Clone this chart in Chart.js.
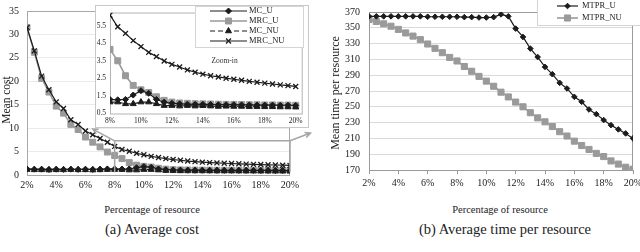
<!DOCTYPE html>
<html>
<head>
<meta charset="utf-8">
<script src="https://cdn.jsdelivr.net/npm/chart.js@4.4.0/dist/chart.umd.min.js"></script>
<style>
  body { margin: 0; background: #fff; }
  #wrap { position: relative; width: 640px; height: 252px; overflow: hidden; font-family: "Liberation Serif", "Times New Roman", serif; color: #222; }
  canvas { position: absolute; }
  .t { position: absolute; text-align: center; white-space: nowrap; }
</style>
</head>
<body>
<div id="wrap">
  <canvas id="costChart" width="320" height="195" style="left:0;top:0"></canvas>
  <div style="position:absolute;left:95px;top:5px;width:212px;height:121px;border:1px solid #c8c8c8;background:#fff">
    <canvas id="zoomChart" width="212" height="121" style="left:0;top:0"></canvas>
  </div>
  <canvas id="timeChart" width="320" height="195" style="left:320px;top:0"></canvas>

  <div class="t" style="left:-64px;top:93px;width:140px;font-size:11.5px;line-height:14px;transform:rotate(-90deg)">Mean cost</div>
  <div class="t" style="left:265px;top:86px;width:140px;font-size:12px;line-height:14px;transform:rotate(-90deg)">Mean time per resource</div>
  <div class="t" style="left:52px;top:203px;width:200px;font-size:10.5px;line-height:14px">Percentage of resource</div>
  <div class="t" style="left:400px;top:203px;width:200px;font-size:10.5px;line-height:14px">Percentage of resource</div>
  <div class="t" style="left:52px;top:220px;width:200px;font-size:14.5px;line-height:18px">(a) Average cost</div>
  <div class="t" style="left:405px;top:220px;width:200px;font-size:14.5px;line-height:18px">(b) Average time per resource</div>
</div>
<script>
// percentage of resource (x values)
const pct = [2, 2.5, 3, 3.5, 4, 4.5, 5, 5.5, 6, 6.5, 7, 7.5, 8, 8.5, 9, 9.5, 10, 10.5, 11, 11.5,
             12, 12.5, 13, 13.5, 14, 14.5, 15, 15.5, 16, 16.5, 17, 17.5, 18, 18.5, 19, 19.5, 20];

// (a) mean cost
const mcU   = [1.3, 1.25, 1.25, 1.2, 1.25, 1.2, 1.25, 1.2, 1.25, 1.2, 1.25, 1.3,
               1.3, 1.28, 1.3, 1.55, 1.8, 1.65, 1.3, 1.15, 1.08, 1.05, 1.03, 1.02, 1.02,
               1.01, 1.0, 1.0, 1.0, 0.99, 0.99, 0.98, 0.98, 0.98, 0.97, 0.97, 0.96];
const mrcU  = [31.5, 26.2, 20.6, 17.7, 14.7, 13.2, 10.8, 9.7, 8.1, 7.0, 6.0, 4.9,
               4.15, 3.5, 2.65, 2.1, 1.85, 1.7, 1.45, 1.25, 1.15, 1.1, 1.08, 1.06, 1.05,
               1.04, 1.03, 1.02, 1.02, 1.01, 1.0, 1.0, 0.99, 0.99, 0.98, 0.98, 0.97];
const mcNU  = [1.15, 1.1, 1.1, 1.05, 1.1, 1.1, 1.15, 1.1, 1.1, 1.05, 1.1, 1.15,
               1.15, 1.15, 1.05, 1.05, 1.15, 1.15, 1.05, 0.95, 0.95, 0.92, 0.95, 0.92, 0.94,
               0.92, 0.9, 0.91, 0.9, 0.9, 0.89, 0.89, 0.88, 0.88, 0.87, 0.87, 0.86];
const mrcNU = [31.5, 26.5, 21.1, 18.2, 15.6, 14.2, 11.8, 10.8, 9.4, 8.6, 7.8, 7.0,
               6.1, 5.44, 5.06, 4.65, 4.31, 3.98, 3.74, 3.49, 3.3, 3.15, 2.98, 2.85, 2.74,
               2.65, 2.58, 2.51, 2.45, 2.39, 2.33, 2.28, 2.23, 2.18, 2.13, 2.09, 2.04];

// (b) mean time per resource
const mtprU  = [364.5, 364.5, 364.5, 364.5, 364.5, 364.5, 364.5, 364.5, 364, 364, 364, 364,
                364, 363.5, 363.5, 363, 363, 363.5, 367, 364.5, 349, 338.4, 323.7, 313, 300.5,
                291.3, 280.3, 273.2, 262.6, 256.3, 246.6, 240.7, 233.2, 226.8, 221.4, 216.3, 210];
const mtprNU = [360.5, 358, 355, 352, 348, 343.5, 339.5, 335, 329.5, 324, 318.5, 312.5,
                308, 301, 295, 288.5, 282.5, 276, 268.5, 262.5, 256, 250, 242.5, 236, 231,
                225, 218.5, 213, 206.5, 201, 196, 191, 187, 181.5, 177.5, 173.5, 171];

// tick labels
const pctTicks = [2, 4, 6, 8, 10, 12, 14, 16, 18, 20];
const costTicks = [0, 5, 10, 15, 20, 25, 30, 35];
const zoomPctTicks = [8, 10, 12, 14, 16, 18, 20];
const zoomCostTicks = [0.5, 1.5, 2.5, 3.5, 4.5, 5.5];
const timeTicks = [170, 190, 210, 230, 250, 270, 290, 310, 330, 350, 370];

// zoomed region marked on the main cost chart (data units)
const zoomBox = { x0: 8, x1: 20, y0: 0.6, y1: 7.3 };
const zoomArrows = [[8, 7.3, 6.5, 9.8], [20, 7.3, 21.4, 8.95]];

Chart.defaults.font.family = "'Liberation Serif', 'Times New Roman', serif";
Chart.defaults.color = '#222';

const BLACK = '#1c1c1c', GREY = '#9a9a9a';

function pts(values, from) {
  return pct.map((p, i) => ({ x: p, y: values[i] })).filter(d => d.x >= (from || 0));
}

function costSets(from) {
  return [
    { label: 'MC_U', data: pts(mcU, from), borderColor: BLACK, borderWidth: 1.2,
      pointStyle: 'rectRot', pointRadius: 3, pointBackgroundColor: BLACK, pointBorderColor: BLACK, pointBorderWidth: 1, order: 1 },
    { label: 'MRC_U', data: pts(mrcU, from), borderColor: GREY, borderWidth: 1.6,
      pointStyle: 'rect', pointRadius: 4.2, pointBackgroundColor: GREY, pointBorderColor: GREY, pointBorderWidth: 1, order: 3 },
    { label: 'MC_NU', data: pts(mcNU, from), borderColor: BLACK, borderWidth: 1.2, borderDash: [5, 3],
      pointStyle: 'triangle', pointRadius: 3.5, pointBackgroundColor: BLACK, pointBorderColor: BLACK, pointBorderWidth: 1, order: 0 },
    { label: 'MRC_NU', data: pts(mrcNU, from), borderColor: BLACK, borderWidth: 1.2,
      pointStyle: 'crossRot', pointRadius: 3.5, pointBackgroundColor: BLACK, pointBorderColor: BLACK, pointBorderWidth: 1.3, order: 2 }
  ];
}

// plot frame
const frame = {
  id: 'frame',
  beforeDatasetsDraw(chart, args, o) {
    const a = chart.chartArea, ctx = chart.ctx;
    ctx.save();
    ctx.strokeStyle = o.color || '#a0a0a0';
    ctx.lineWidth = 1;
    ctx.strokeRect(a.left + 0.5, a.top + 0.5, a.right - a.left - 1, a.bottom - a.top);
    ctx.restore();
  }
};

// legend with line + marker sample
const lineLegend = {
  id: 'lineLegend',
  afterDraw(chart, args, o) {
    const ctx = chart.ctx;
    ctx.save();
    ctx.fillStyle = '#fff';
    ctx.fillRect(o.box[0], o.box[1], o.box[2], o.box[3]);
    ctx.strokeStyle = '#d4d4d4';
    ctx.lineWidth = 1;
    ctx.strokeRect(o.box[0] + 0.5, o.box[1] + 0.5, o.box[2] - 1, o.box[3] - 1);
    ctx.font = o.font;
    ctx.textBaseline = 'middle';
    chart.data.datasets.forEach((ds, i) => {
      const y = o.rows[i];
      ctx.strokeStyle = ds.borderColor;
      ctx.lineWidth = ds.borderWidth;
      ctx.setLineDash(ds.borderDash || []);
      ctx.beginPath();
      ctx.moveTo(o.line[0], y);
      ctx.lineTo(o.line[1], y);
      ctx.stroke();
      ctx.setLineDash([]);
      ctx.fillStyle = ds.pointBackgroundColor;
      ctx.strokeStyle = ds.pointBorderColor;
      ctx.lineWidth = ds.pointBorderWidth;
      Chart.helpers.drawPoint(ctx, { pointStyle: ds.pointStyle, radius: ds.pointRadius, rotation: 0,
        borderWidth: ds.pointBorderWidth }, (o.line[0] + o.line[1]) / 2, y);
      ctx.fillStyle = '#222';
      ctx.fillText(ds.label, o.textX, y);
    });
    ctx.restore();
  }
};

function arrow(ctx, x1, y1, x2, y2) {
  const ang = Math.atan2(y2 - y1, x2 - x1);
  ctx.beginPath();
  ctx.moveTo(x1, y1);
  ctx.lineTo(x2, y2);
  ctx.moveTo(x2 - 6 * Math.cos(ang - 0.45), y2 - 6 * Math.sin(ang - 0.45));
  ctx.lineTo(x2, y2);
  ctx.lineTo(x2 - 6 * Math.cos(ang + 0.45), y2 - 6 * Math.sin(ang + 0.45));
  ctx.stroke();
}

const zoomMark = {
  id: 'zoomMark',
  afterDatasetsDraw(chart) {
    const ctx = chart.ctx, x = chart.scales.x, y = chart.scales.y;
    const px = v => x.getPixelForValue(v), py = v => y.getPixelForValue(v);
    ctx.save();
    ctx.strokeStyle = '#a5a5a5';
    ctx.lineWidth = 1.5;
    ctx.beginPath();
    ctx.moveTo(px(zoomBox.x0), py(zoomBox.y0));
    ctx.lineTo(px(zoomBox.x0), py(zoomBox.y1));
    ctx.lineTo(px(zoomBox.x1), py(zoomBox.y1));
    ctx.lineTo(px(zoomBox.x1), py(zoomBox.y0));
    ctx.stroke();
    zoomArrows.forEach(a => arrow(ctx, px(a[0]), py(a[1]), px(a[2]), py(a[3])));
    ctx.restore();
  }
};

const zoomLabel = {
  id: 'zoomLabel',
  afterDatasetsDraw(chart) {
    const ctx = chart.ctx;
    ctx.save();
    ctx.font = "7.5px 'Liberation Serif', serif";
    ctx.fillStyle = '#333';
    ctx.textAlign = 'center';
    ctx.textBaseline = 'middle';
    ctx.fillText('Zoom-in', chart.scales.x.getPixelForValue(15.4), chart.scales.y.getPixelForValue(3.5));
    ctx.restore();
  }
};

function fixTicks(list) {
  return s => { s.ticks = list.map(v => ({ value: v })); };
}
function noPad(s) { s.paddingLeft = 0; s.paddingRight = 0; s.paddingTop = 0; s.paddingBottom = 0; }

const base = {
  responsive: false,
  animation: false,
  devicePixelRatio: 1,
  events: [],
  elements: { line: { tension: 0, fill: false } }
};

// (a) main cost chart
new Chart(document.getElementById('costChart'), {
  type: 'line',
  data: { datasets: costSets() },
  options: Object.assign({}, base, {
    layout: { padding: { left: 0, top: 11, right: 30, bottom: 0 } },
    scales: {
      x: {
        type: 'linear', min: 2, max: 20,
        afterBuildTicks: fixTicks(pctTicks),
        afterFit: s => { s.height = 20; noPad(s); },
        grid: { display: false, drawTicks: false },
        border: { display: false },
        ticks: { padding: 4, font: { size: 10 }, maxRotation: 0, callback: v => v + '%' }
      },
      y: {
        min: 0, max: 35,
        afterBuildTicks: fixTicks(costTicks),
        afterFit: s => { s.width = 27; noPad(s); },
        grid: { color: '#ebebeb', drawTicks: false },
        border: { display: false },
        ticks: { padding: 8, font: { size: 10 } }
      }
    },
    plugins: { legend: { display: false }, tooltip: { enabled: false }, frame: { color: '#a8a8a8' } }
  }),
  plugins: [frame, zoomMark]
});

// (a) zoom-in inset
new Chart(document.getElementById('zoomChart'), {
  type: 'line',
  data: { datasets: costSets(8) },
  options: Object.assign({}, base, {
    layout: { padding: { left: 0, top: 6.5, right: 4, bottom: 0 } },
    scales: {
      x: {
        type: 'linear', min: 8, max: 20.45,
        afterBuildTicks: fixTicks(zoomPctTicks),
        afterFit: s => { s.height = 13.5; noPad(s); },
        grid: { display: false, drawTicks: false },
        border: { display: false },
        ticks: { padding: 3, font: { size: 7.5 }, maxRotation: 0, callback: v => v + '%' }
      },
      y: {
        min: 0.5, max: 6.25,
        afterBuildTicks: fixTicks(zoomCostTicks),
        afterFit: s => { s.width = 14; noPad(s); },
        grid: { display: false, drawTicks: false },
        border: { display: false },
        ticks: { padding: 4, font: { size: 7.5 } }
      }
    },
    plugins: {
      legend: { display: false }, tooltip: { enabled: false },
      frame: { color: '#b4b4b4' },
      lineLegend: { box: [99, 0, 109, 42], rows: [5, 15, 25, 35], line: [114, 151], textX: 153,
                    font: "8.5px 'Liberation Serif', serif" }
    }
  }),
  plugins: [frame, zoomLabel, lineLegend]
});

// (b) mean time per resource
new Chart(document.getElementById('timeChart'), {
  type: 'line',
  data: {
    datasets: [
      { label: 'MTPR_U', data: pts(mtprU), borderColor: BLACK, borderWidth: 1.2,
        pointStyle: 'rectRot', pointRadius: 2.8, pointBackgroundColor: BLACK, pointBorderColor: BLACK, pointBorderWidth: 1 },
      { label: 'MTPR_NU', data: pts(mtprNU), borderColor: GREY, borderWidth: 1.6,
        pointStyle: 'rect', pointRadius: 4.3, pointBackgroundColor: GREY, pointBorderColor: GREY, pointBorderWidth: 1 }
    ]
  },
  options: Object.assign({}, base, {
    layout: { padding: { left: 0, top: 12, right: 7, bottom: 0 } },
    scales: {
      x: {
        type: 'linear', min: 2, max: 20,
        afterBuildTicks: fixTicks(pctTicks),
        afterFit: s => { s.height = 25; noPad(s); },
        grid: { drawOnChartArea: false, tickLength: 4, tickColor: '#999' },
        border: { display: false },
        ticks: { padding: 3, font: { size: 10 }, maxRotation: 0, callback: v => v + '%' }
      },
      y: {
        min: 170, max: 370,
        afterBuildTicks: fixTicks(timeTicks),
        afterFit: s => { s.width = 49; noPad(s); },
        grid: { color: '#dadada', drawTicks: false },
        border: { display: false },
        ticks: { padding: 9, font: { size: 10 } }
      }
    },
    plugins: {
      legend: { display: false }, tooltip: { enabled: false },
      frame: { color: '#9a9a9a' },
      lineLegend: { box: [217, -1, 106, 27], rows: [6, 18], line: [237, 258], textX: 262,
                    font: "8.5px 'Liberation Serif', serif" }
    }
  }),
  plugins: [frame, lineLegend]
});
</script>
</body>
</html>
